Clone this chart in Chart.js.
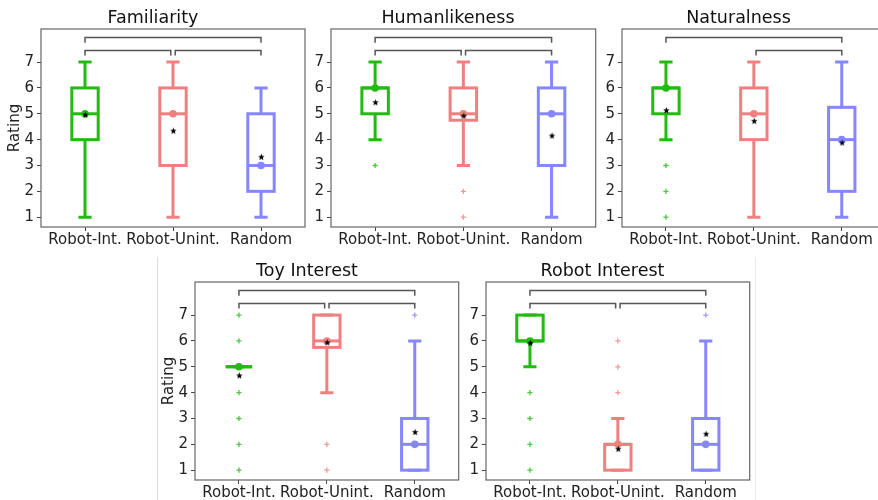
<!DOCTYPE html>
<html>
<head>
<meta charset="utf-8">
<script src="https://cdn.jsdelivr.net/npm/chart.js@4.4.1/dist/chart.umd.min.js"></script>
<style>
html, body { margin: 0; padding: 0; background: #fff; overflow: hidden; width: 878px; height: 500px; }
canvas { position: absolute; }
.rule { position: absolute; width: 1px; }
</style>
</head>
<body>
<div class="rule" style="left:157px;top:257px;height:243px;background:#dcdcdc"></div>
<div class="rule" style="left:755px;top:257px;height:243px;background:#ececec"></div>
<script>
// Box plot data, one row per panel, one entry per condition
const categories = ['Robot-Int.', 'Robot-Unint.', 'Random'];
const panelTitles = ['Familiarity', 'Humanlikeness', 'Naturalness', 'Toy Interest', 'Robot Interest'];
const yTicks = [1, 2, 3, 4, 5, 6, 7];

const whiskerLow  = [[1, 1, 1], [4, 3, 1], [4, 1, 1], [5, 4, 1], [5, 1, 1]];
const quartile1   = [[4, 3, 2], [5, 4.75, 3], [5, 4, 2], [5, 5.75, 1], [6, 1, 1]];
const medians     = [[5, 5, 3], [6, 5, 5], [6, 5, 4], [5, 6, 2], [6, 2, 2]];
const quartile3   = [[6, 6, 5], [6, 6, 6], [6, 6, 5.25], [5, 7, 3], [7, 2, 3]];
const whiskerHigh = [[7, 7, 6], [7, 7, 7], [7, 7, 7], [5, 7, 6], [7, 3, 6]];
const means       = [[4.97, 4.35, 3.34], [5.45, 4.93, 4.16], [5.14, 4.73, 3.89], [4.67, 5.95, 2.48], [5.93, 1.83, 2.41]];
const outliers = [
    [[], [], []],
    [[3], [2, 1], []],
    [[3, 2, 1], [], []],
    [[7, 6, 4, 3, 2, 1], [2, 1], [7]],
    [[4, 3, 2, 1], [4, 5, 6], [7]]
];
// significance brackets: pairs of condition indices
const brackets = [
    [[0, 2], [0, 1], [1, 2]],
    [[0, 2], [0, 1], [1, 2]],
    [[0, 2], [1, 2]],
    [[0, 2], [0, 1], [1, 2]],
    [[0, 2], [0, 1], [1, 2]]
];

const colors = ['#22bb0f', '#f08080', '#8686ff'];
const outlierColors = ['rgba(34,187,15,0.8)', 'rgba(240,128,128,0.8)', 'rgba(134,134,255,0.8)'];

// plot area of each panel in page pixels
const layout = [
    { left: 41,  top: 29,  width: 265, yAxis: 41, rating: true },
    { left: 331, top: 29,  width: 266, yAxis: 32, rating: false },
    { left: 622, top: 29,  width: 265, yAxis: 32, rating: false },
    { left: 195, top: 282, width: 265, yAxis: 41, rating: true },
    { left: 486, top: 282, width: 265, yAxis: 32, rating: false }
];
const PLOT_H = 198, TITLE_H = 22, XAXIS_H = 24, PAD_R = 4;
const BOX_HALF = 0.15, CAP_HALF = 0.075;
const FONT = 'DejaVu Sans';

function makeStar(r) {
    const c = document.createElement('canvas');
    c.width = c.height = 2 * r + 2;
    const g = c.getContext('2d');
    g.fillStyle = '#000';
    g.beginPath();
    for (let k = 0; k < 10; k++) {
        const a = -Math.PI / 2 + k * Math.PI / 5;
        const rad = k % 2 ? r * 0.45 : r;
        g.lineTo(r + 1 + rad * Math.cos(a), r + 1 + rad * Math.sin(a));
    }
    g.closePath();
    g.fill();
    return c;
}
const starImg = makeStar(3.4);

const boxPlugin = {
    id: 'boxes',
    beforeDatasetsDraw(chart, args, opts) {
        const p = opts.panel;
        const xs = chart.scales.x, ys = chart.scales.y, ctx = chart.ctx;
        ctx.save();
        ctx.lineWidth = 3;
        ctx.lineJoin = 'miter';
        ctx.lineCap = 'butt';
        for (let i = 0; i < categories.length; i++) {
            const cx = xs.getPixelForValue(i);
            const bl = xs.getPixelForValue(i - BOX_HALF), br = xs.getPixelForValue(i + BOX_HALF);
            const cl = xs.getPixelForValue(i - CAP_HALF), cr = xs.getPixelForValue(i + CAP_HALF);
            const wl = ys.getPixelForValue(whiskerLow[p][i]);
            const b1 = ys.getPixelForValue(quartile1[p][i]);
            const md = ys.getPixelForValue(medians[p][i]);
            const b3 = ys.getPixelForValue(quartile3[p][i]);
            const wh = ys.getPixelForValue(whiskerHigh[p][i]);
            ctx.strokeStyle = colors[i];
            ctx.beginPath();
            ctx.moveTo(cx, b1); ctx.lineTo(cx, wl);
            ctx.moveTo(cx, b3); ctx.lineTo(cx, wh);
            ctx.moveTo(cl, wl); ctx.lineTo(cr, wl);
            ctx.moveTo(cl, wh); ctx.lineTo(cr, wh);
            ctx.stroke();
            ctx.strokeRect(bl, b3, br - bl, b1 - b3);
            ctx.beginPath();
            ctx.moveTo(bl, md); ctx.lineTo(br, md);
            ctx.stroke();
        }
        // significance brackets
        ctx.strokeStyle = '#555';
        ctx.lineWidth = 1.5;
        brackets[p].forEach(([a, b]) => {
            const level = (b - a === 2) ? 7.95 : 7.45;
            const xa = xs.getPixelForValue(a + (a === 1 ? 0.025 : 0));
            const xb = xs.getPixelForValue(b - (b === 1 ? 0.025 : 0));
            const yTop = ys.getPixelForValue(level), yEnd = ys.getPixelForValue(level - 0.2);
            ctx.beginPath();
            ctx.moveTo(xa, yEnd); ctx.lineTo(xa, yTop); ctx.lineTo(xb, yTop); ctx.lineTo(xb, yEnd);
            ctx.stroke();
        });
        ctx.restore();
    },
    afterDraw(chart) {
        const a = chart.chartArea, ctx = chart.ctx;
        ctx.save();
        ctx.strokeStyle = '#666';
        ctx.lineWidth = 1.2;
        ctx.strokeRect(a.left, a.top, a.right - a.left, a.bottom - a.top);
        ctx.restore();
    }
};

function buildPanel(p) {
    const L = layout[p];
    const canvas = document.createElement('canvas');
    canvas.width = L.yAxis + L.width + PAD_R;
    canvas.height = TITLE_H + PLOT_H + XAXIS_H;
    canvas.style.left = (L.left - L.yAxis) + 'px';
    canvas.style.top = (L.top - TITLE_H) + 'px';
    document.body.appendChild(canvas);

    const meanPoints = means[p].map((v, i) => ({ x: i, y: v }));
    const medianPoints = medians[p].map((v, i) => ({ x: i, y: v }));
    const outPoints = [], outCols = [];
    outliers[p].forEach((list, i) => list.forEach(v => {
        outPoints.push({ x: i, y: v });
        outCols.push(outlierColors[i]);
    }));

    new Chart(canvas, {
        type: 'scatter',
        data: {
            datasets: [
                { label: 'Mean', data: meanPoints, pointStyle: starImg, pointRadius: 4 },
                { label: 'Median', data: medianPoints, pointStyle: 'circle', pointRadius: 3.8,
                  pointBackgroundColor: colors, pointBorderWidth: 0 },
                { label: 'Outliers', data: outPoints, pointStyle: 'cross', pointRadius: 2.6,
                  pointBorderColor: outCols, pointBorderWidth: 1.3 }
            ]
        },
        options: {
            responsive: false,
            animation: false,
            devicePixelRatio: 1,
            layout: { padding: { left: 0, right: PAD_R, top: 0, bottom: 0 } },
            plugins: {
                legend: { display: false },
                tooltip: { enabled: false },
                title: {
                    display: true,
                    text: panelTitles[p],
                    color: '#111',
                    font: { family: FONT, size: 17.5, weight: 'normal', lineHeight: '22px' },
                    padding: { top: 0, bottom: 0 }
                },
                boxes: { panel: p }
            },
            scales: {
                x: {
                    type: 'linear',
                    min: -0.5,
                    max: 2.5,
                    afterBuildTicks: s => { s.ticks = [0, 1, 2].map(v => ({ value: v })); },
                    afterFit: s => { s.height = XAXIS_H; },
                    ticks: {
                        autoSkip: false,
                        maxRotation: 0,
                        padding: 0,
                        color: '#222',
                        font: { family: FONT, size: 15 },
                        callback: v => categories[v]
                    },
                    grid: { drawOnChartArea: false, drawTicks: true, tickLength: 4, color: '#444' },
                    border: { display: false }
                },
                y: {
                    min: 0.62,
                    max: 8.28,
                    afterBuildTicks: s => { s.ticks = yTicks.map(v => ({ value: v })); },
                    afterFit: s => { s.width = L.yAxis; },
                    ticks: {
                        padding: 3,
                        color: '#222',
                        font: { family: FONT, size: 15 }
                    },
                    grid: { drawOnChartArea: false, drawTicks: true, tickLength: 4, color: '#444' },
                    border: { display: false },
                    title: {
                        display: L.rating,
                        text: 'Rating',
                        color: '#222',
                        font: { family: FONT, size: 15 },
                        padding: { top: 6, bottom: 0 }
                    }
                }
            }
        },
        plugins: [boxPlugin]
    });
}

for (let p = 0; p < panelTitles.length; p++) buildPanel(p);
</script>
</body>
</html>
